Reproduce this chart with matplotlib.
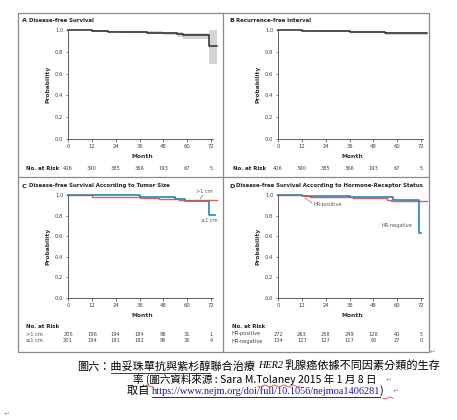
import matplotlib
matplotlib.use("Agg")
import matplotlib.pyplot as plt
import numpy as np

W, H = 457, 420

# ---------------- data ----------------
month_ticks = [0, 12, 24, 36, 48, 60, 72]
prob_ticks = [0.0, 0.2, 0.4, 0.6, 0.8, 1.0]

# Panel A: disease-free survival
a_month = [0, 12, 20, 28, 40, 48, 55, 58, 71, 75]
a_surv = [1.0, 0.99, 0.985, 0.98, 0.975, 0.97, 0.96, 0.95, 0.85, 0.85]
a_low = [1.0, 0.985, 0.978, 0.972, 0.965, 0.955, 0.935, 0.92, 0.69, 0.69]
a_high = [1.0, 0.997, 0.993, 0.99, 0.987, 0.983, 0.978, 0.975, 1.0, 1.0]
a_risk = [406, 390, 385, 366, 193, 67, 5]

# Panel B: recurrence-free interval
b_month = [0, 12, 20, 36, 45, 54, 75]
b_surv = [1.0, 0.995, 0.99, 0.985, 0.98, 0.97, 0.97]
b_low = [1.0, 0.99, 0.983, 0.977, 0.97, 0.958, 0.958]
b_high = [1.0, 1.0, 0.997, 0.993, 0.99, 0.985, 0.985]
b_risk = [406, 390, 385, 366, 193, 67, 5]

# Panel C: by tumor size
c_big_month = [0, 12, 36, 46, 56, 60, 75]
c_big_surv = [1.0, 0.985, 0.975, 0.965, 0.955, 0.95, 0.95]
c_small_month = [0, 36, 54, 59, 71, 74]
c_small_surv = [1.0, 0.985, 0.965, 0.945, 0.81, 0.81]
c_big_risk = [205, 196, 194, 184, 98, 31, 1]
c_small_risk = [201, 194, 191, 182, 95, 36, 4]

# Panel D: by hormone-receptor status
d_pos_month = [0, 13, 16, 38, 46, 55, 57, 75]
d_pos_surv = [1.0, 0.99, 0.985, 0.975, 0.97, 0.955, 0.945, 0.945]
d_neg_month = [0, 12, 36, 58, 71, 72]
d_neg_surv = [1.0, 0.99, 0.98, 0.95, 0.63, 0.63]
d_pos_risk = [272, 263, 258, 249, 128, 40, 5]
d_neg_risk = [134, 127, 127, 117, 65, 27, 0]

BLUE = "#2583b8"
RED = "#c9534c"
DARK = "#2b2b2b"
GRAY_TXT = "#333333"

plt.rcParams['font.family'] = ['DejaVu Sans']

fig = plt.figure(figsize=(W / 100, H / 100), dpi=100)
fig.patch.set_facecolor("white")


def fx(x):
    return np.asarray(x) / W if np.ndim(x) else x / W


def fy(y):
    return 1 - np.asarray(y) / H if np.ndim(y) else 1 - y / H


def add_axes(left, top, bottom, width=149):
    ax = fig.add_axes([fx(left), fy(bottom), width / W, (bottom - top) / H])
    ax.set_xlim(0, 75)
    ax.set_ylim(0, 1.0)
    for s in ["top", "right"]:
        ax.spines[s].set_visible(False)
    ax.spines["bottom"].set_bounds(0, 73)
    for s in ["left", "bottom"]:
        ax.spines[s].set_linewidth(0.6)
        ax.spines[s].set_color("#444444")
    ax.set_xticks(month_ticks)
    ax.set_yticks(prob_ticks)
    ax.set_yticklabels([f"{v:.1f}" for v in prob_ticks])
    ax.tick_params(labelsize=3.8, length=1.8, width=0.5, pad=1.5, colors="#444444")
    ax.set_xlabel("Month", fontsize=4.3, fontweight="bold", labelpad=4, color=GRAY_TXT)
    ax.set_ylabel("Probability", fontsize=4.3, fontweight="bold", labelpad=3, color=GRAY_TXT)
    ax.patch.set_alpha(0)
    return ax


def title(x, y, letter, text):
    fig.text(fx(x), fy(y), letter, fontsize=4.6, fontweight="bold", va="center", color="#222222")
    fig.text(fx(x + 7), fy(y), text, fontsize=3.9, fontweight="bold", va="center", color="#222222")


def risk_row(ax, y, values):
    for m, v in zip(month_ticks, values):
        xd = ax.transData.transform((m, 0))[0]
        fig.text(xd / fig.dpi / fig.get_figwidth(), fy(y), str(v), fontsize=3.7,
                 ha="center", va="center", color="#444444")


# ---------- Panel A ----------
axA = add_axes(68, 30, 139)
axA.fill_between(a_month, a_low, a_high, step="post", color="#d4d4d4", lw=0)
axA.step(a_month, a_surv, where="post", color=DARK, lw=1.1, clip_on=False)
title(22, 20, "A", "Disease-free Survival")
fig.text(fx(26), fy(168), "No. at Risk", fontsize=3.9, fontweight="bold", va="center", color="#222222")

# ---------- Panel B ----------
axB = add_axes(278, 30, 139)
axB.fill_between(b_month, b_low, b_high, step="post", color="#d4d4d4", lw=0)
axB.step(b_month, b_surv, where="post", color=DARK, lw=1.1, clip_on=False)
title(229, 20, "B", "Recurrence-free Interval")
fig.text(fx(233), fy(168), "No. at Risk", fontsize=3.9, fontweight="bold", va="center", color="#222222")

# ---------- Panel C ----------
axC = add_axes(68, 195, 298)
axC.step(c_small_month, c_small_surv, where="post", color=BLUE, lw=1.2, clip_on=False)
axC.step(c_big_month, c_big_surv, where="post", color=RED, lw=1.0, clip_on=False, alpha=0.9)
title(22, 186, "C", "Disease-free Survival According to Tumor Size")
fig.text(fx(204), fy(192), ">1 cm", fontsize=3.6, ha="center", va="center", color="#555555")
fig.add_artist(plt.Line2D([fx(203), fx(200)], [fy(195), fy(199)], lw=0.4, color="#555555"))
fig.text(fx(209), fy(220), "\u22641 cm", fontsize=3.6, ha="center", va="center", color="#555555")
fig.text(fx(26), fy(326), "No. at Risk", fontsize=3.9, fontweight="bold", va="center", color="#222222")
fig.text(fx(26), fy(334), ">1 cm", fontsize=3.7, va="center", color="#444444")
fig.text(fx(26), fy(341), "\u22641 cm", fontsize=3.7, va="center", color="#444444")

# ---------- Panel D ----------
axD = add_axes(278, 195, 298)
axD.step(d_neg_month, d_neg_surv, where="post", color=BLUE, lw=1.2, clip_on=False)
axD.step(d_pos_month, d_pos_surv, where="post", color=RED, lw=1.0, clip_on=False, alpha=0.9)
title(229, 186, "D", "Disease-free Survival According to Hormone-Receptor Status")
fig.text(fx(313), fy(204), "HR-positive", fontsize=3.6, va="center", color="#555555")
fig.add_artist(plt.Line2D([fx(305), fx(312)], [fy(198), fy(203)], lw=0.4, color="#555555"))
fig.text(fx(382), fy(226), "HR-negative", fontsize=3.6, va="center", color="#555555")
fig.text(fx(232), fy(326), "No. at Risk", fontsize=3.9, fontweight="bold", va="center", color="#222222")
fig.text(fx(232), fy(334), "HR-positive", fontsize=3.7, va="center", color="#444444")
fig.text(fx(232), fy(341), "HR-negative", fontsize=3.7, va="center", color="#444444")

# risk tables
risk_row(axA, 168, a_risk)
risk_row(axB, 168, b_risk)
risk_row(axC, 334, c_big_risk)
risk_row(axC, 341, c_small_risk)
risk_row(axD, 334, d_pos_risk)
risk_row(axD, 341, d_neg_risk)

# ---------- frame ----------
frame_col = "#8a8a8a"
fig.add_artist(plt.Rectangle((fx(18), fy(352)), (429 - 18) / W, (352 - 13) / H,
                             fill=False, lw=0.9, ec=frame_col))
fig.add_artist(plt.Line2D([fx(223), fx(223)], [fy(13), fy(352)], lw=0.9, color=frame_col))
fig.add_artist(plt.Line2D([fx(18), fx(429)], [fy(177), fy(177)], lw=0.9, color=frame_col))

# ---------- caption ----------
cjk = ['Noto Sans CJK TC', 'DejaVu Sans']
cap_fs = 8.0
mark = dict(fontsize=5, family=['DejaVu Sans'], va="center", color="#999999")
fig.text(fx(77), fy(366), "圖六：曲妥珠單抗與紫杉醇聯合治療", fontsize=cap_fs, family=cjk, va="center")
fig.text(fx(258), fy(366), "HER2", fontsize=cap_fs - 0.6, family=['Liberation Serif'],
         style="italic", va="center")
fig.text(fx(284), fy(366), "乳腺癌依據不同因素分類的生存", fontsize=cap_fs, family=cjk, va="center")
fig.text(fx(133), fy(379), "率 (圖六資料來源 : Sara M.Tolaney 2015 年 1 月 8 日", fontsize=cap_fs - 0.4,
         family=cjk, va="center")
fig.text(fx(386), fy(380), "\u21b5", **mark)
fig.text(fx(127), fy(391), "取自 ", fontsize=cap_fs, family=cjk, va="center")
fig.text(fx(152), fy(391), "https://www.nejm.org/doi/full/10.1056/nejmoa1406281", fontsize=7.4,
         family=['Liberation Serif'], va="center", color="#1a1aa6")
fig.text(fx(380), fy(391), ")", fontsize=cap_fs, family=cjk, va="center")
fig.text(fx(393), fy(391), "\u21b5", **mark)
fig.text(fx(4), fy(414), "\u21b5", **mark)
fig.text(fx(430), fy(352), "\u21b5", **mark)
# underlines
fig.add_artist(plt.Line2D([fx(111), fx(210)], [fy(372.5), fy(372.5)], lw=0.7, color="#1a3a8a"))
fig.add_artist(plt.Line2D([fx(152), fx(380)], [fy(397), fy(397)], lw=0.7, color="#1a1aa6"))
# spell-check wavy lines
for x0, x1, yy in [(140, 153, 386), (258, 300, 386), (383, 393, 398)]:
    xs = np.linspace(x0, x1, 40)
    ys = yy + 1.0 * np.sin((xs - x0) / 1.5)
    fig.add_artist(plt.Line2D(fx(xs), fy(ys), lw=0.5, color="#d02020"))

fig.savefig("out.png", dpi=100, facecolor="white")
